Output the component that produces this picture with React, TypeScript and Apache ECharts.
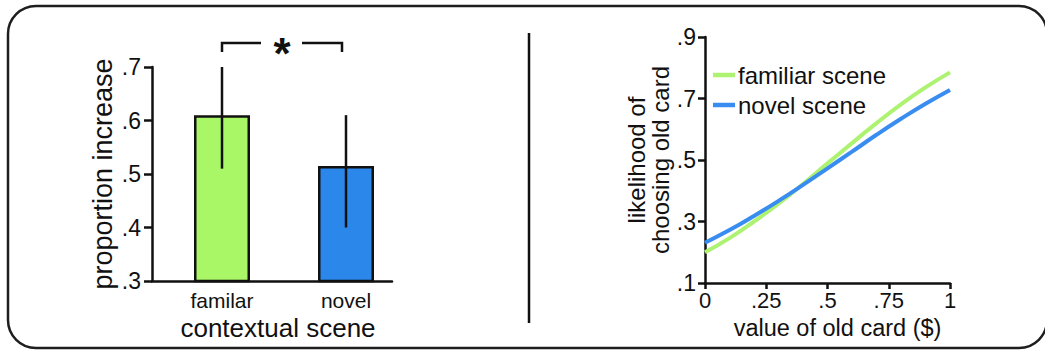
import React, { useEffect, useRef } from "react";
import * as echarts from "echarts";

// ---- data ----
const barCategories = ["familar", "novel"];
const barMeans = [0.61, 0.515];
const barErrLow = [0.51, 0.4];
const barErrHigh = [0.7, 0.61];
const sigLevel = 0.745;

const cardValues = [0, 0.1, 0.2, 0.3, 0.4, 0.5, 0.6, 0.7, 0.8, 0.9, 1];
const familiarScene = [0.2, 0.246, 0.3, 0.358, 0.422, 0.489, 0.555, 0.62, 0.681, 0.736, 0.785];
const novelScene = [0.231, 0.272, 0.318, 0.367, 0.419, 0.473, 0.527, 0.582, 0.634, 0.683, 0.728];

const leftTicks = { min: 0.3, max: 0.7, interval: 0.1 };
const rightYTicks = { min: 0.1, max: 0.9, interval: 0.2 };
const rightXTicks = { min: 0, max: 1, interval: 0.25 };

const FONT = "Liberation Sans, Arial, Helvetica, sans-serif";
const INK = "#111";
const GREEN_BAR = "#a9f666";
const BLUE_BAR = "#2b87ea";
const GREEN_LINE = "#aef272";
const BLUE_LINE = "#3a8df0";

const fmtDec = (v: number) => {
  if (v === 0) return "0";
  if (Math.abs(v - 1) < 1e-9) return "1";
  const s = String(Math.round(v * 100) / 100);
  return s.replace(/^0/, "");
};

export default function App() {
  const ref = useRef<HTMLDivElement>(null);
  useEffect(() => {
    if (!ref.current) return;
    const chart = echarts.init(ref.current, null, { renderer: "svg" });
    const option: any = {
      animation: false,
      textStyle: { fontFamily: FONT, color: INK },
      grid: [
        { left: 160, top: 67, width: 248, height: 214 },
        { left: 152, top: 67, width: 240, height: 214 },
        { left: 705, top: 37, width: 245, height: 246 },
      ],
      xAxis: [
        {
          gridIndex: 0,
          type: "category",
          data: barCategories,
          axisLine: { show: false },
          axisTick: { show: false },
          axisLabel: { fontSize: 21, lineHeight: 18, color: INK, margin: 10, fontFamily: FONT },
          name: "contextual scene",
          nameLocation: "middle",
          nameGap: 36,
          nameMoveOverlap: false,
          nameTextStyle: { fontSize: 26, lineHeight: 21, color: INK, fontFamily: FONT, padding: [0, 12, 0, 0] },
        },
        {
          gridIndex: 1,
          type: "value",
          min: 0,
          max: 1,
          axisLine: { show: true, lineStyle: { color: INK, width: 2.5 } },
          axisTick: { show: false },
          axisLabel: { show: false },
          splitLine: { show: false },
        },
        {
          gridIndex: 2,
          type: "value",
          min: rightXTicks.min,
          max: rightXTicks.max,
          interval: rightXTicks.interval,
          axisLine: { show: true, lineStyle: { color: INK, width: 2.5 } },
          axisTick: { show: true, length: 6, lineStyle: { color: INK, width: 2.5 } },
          axisLabel: { fontSize: 22, lineHeight: 18, color: INK, margin: 8, formatter: fmtDec, fontFamily: FONT },
          splitLine: { show: false },
          name: "value of old card ($)",
          nameLocation: "middle",
          nameGap: 35,
          nameMoveOverlap: false,
          nameTextStyle: { fontSize: 23.5, lineHeight: 20, color: INK, fontFamily: FONT, padding: [0, 0, 0, 20] },
        },
      ],
      yAxis: [
        {
          gridIndex: 0,
          type: "value",
          min: leftTicks.min,
          max: leftTicks.max,
          show: false,
        },
        {
          gridIndex: 1,
          type: "value",
          min: leftTicks.min,
          max: leftTicks.max,
          interval: leftTicks.interval,
          axisLine: { show: true, lineStyle: { color: INK, width: 2.5 } },
          axisTick: { show: true, length: 8, lineStyle: { color: INK, width: 2.5 } },
          axisLabel: { fontSize: 23, color: INK, margin: 11, formatter: (v: number) => v.toFixed(1).replace(/^0/, ""), fontFamily: FONT },
          splitLine: { show: false },
          name: "proportion increase",
          nameLocation: "middle",
          nameRotate: 90,
          nameGap: 36,
          nameTextStyle: { fontSize: 27, color: INK, fontFamily: FONT },
        },
        {
          gridIndex: 2,
          type: "value",
          min: rightYTicks.min,
          max: rightYTicks.max,
          interval: rightYTicks.interval,
          axisLine: { show: true, lineStyle: { color: INK, width: 2.5 } },
          axisTick: { show: true, length: 7, lineStyle: { color: INK, width: 2.5 } },
          axisLabel: { fontSize: 23, color: INK, margin: 9, formatter: (v: number) => v.toFixed(1).replace(/^0/, ""), fontFamily: FONT },
          splitLine: { show: false },
          name: "likelihood of\nchoosing old card",
          nameLocation: "middle",
          nameRotate: 90,
          nameGap: 29,
          nameTextStyle: { fontSize: 24, lineHeight: 24, color: INK, fontFamily: FONT },
        },
      ],
      legend: {
        left: 713,
        top: 63,
        orient: "vertical",
        icon: "rect",
        itemWidth: 22,
        itemHeight: 4.5,
        itemGap: 6,
        padding: 0,
        textStyle: { fontSize: 24, color: INK, fontFamily: FONT, padding: [0, 0, 0, -2] },
        data: ["familiar scene", "novel scene"],
      },
      series: [
        {
          type: "bar",
          xAxisIndex: 0,
          yAxisIndex: 0,
          barWidth: 56,
          data: barMeans.map((v, i) => ({
            value: v,
            itemStyle: { color: i === 0 ? GREEN_BAR : BLUE_BAR, borderColor: INK, borderWidth: 2.5 },
          })),
          z: 2,
        },
        {
          type: "custom",
          xAxisIndex: 0,
          yAxisIndex: 0,
          clip: false,
          z: 5,
          data: barErrLow.map((lo, i) => [i, lo, barErrHigh[i]]),
          encode: { x: 0, y: [1, 2] },
          renderItem: (params: any, api: any) => {
            const c = api.value(0);
            const lo = api.coord([c, api.value(1)]);
            const hi = api.coord([c, api.value(2)]);
            return {
              type: "line",
              shape: { x1: lo[0], y1: lo[1], x2: hi[0], y2: hi[1] },
              style: { stroke: INK, lineWidth: 2.5 },
            };
          },
        },
        {
          type: "custom",
          xAxisIndex: 0,
          yAxisIndex: 0,
          clip: false,
          z: 5,
          data: [[0, 1, sigLevel]],
          encode: { x: [0, 1], y: 2 },
          renderItem: (params: any, api: any) => {
            const a = api.coord([api.value(0), api.value(2)]);
            const b = api.coord([api.value(1), api.value(2)]);
            const bx = b[0] - 4;
            const mid = (a[0] + bx) / 2;
            const st = { stroke: INK, lineWidth: 2.5, fill: "none" };
            return {
              type: "group",
              children: [
                { type: "polyline", shape: { points: [[a[0], a[1] + 9], [a[0], a[1]], [mid - 21, a[1]]] }, style: st },
                { type: "polyline", shape: { points: [[mid + 20, b[1]], [bx, b[1]], [bx, b[1] + 9]] }, style: st },
                {
                  type: "text",
                  x: mid,
                  y: a[1] + 11,
                  style: { text: "*", fontSize: 44, fontWeight: "bold", fontFamily: FONT, fill: INK, align: "center", verticalAlign: "middle" },
                },
              ],
            };
          },
        },
        {
          type: "line",
          name: "familiar scene",
          xAxisIndex: 2,
          yAxisIndex: 2,
          smooth: true,
          symbol: "none",
          data: cardValues.map((x, i) => [x, familiarScene[i]]),
          lineStyle: { color: GREEN_LINE, width: 4 },
          itemStyle: { color: GREEN_LINE },
          z: 3,
        },
        {
          type: "line",
          name: "novel scene",
          xAxisIndex: 2,
          yAxisIndex: 2,
          smooth: true,
          symbol: "none",
          data: cardValues.map((x, i) => [x, novelScene[i]]),
          lineStyle: { color: BLUE_LINE, width: 4 },
          itemStyle: { color: BLUE_LINE },
          z: 4,
        },
      ],
      graphic: [
        {
          type: "rect",
          shape: { x: 8, y: 6, width: 1039, height: 342, r: 28 },
          style: { fill: "none", stroke: "#1e1e1e", lineWidth: 2.5 },
          silent: true,
          z: 0,
        },
        {
          type: "line",
          shape: { x1: 529, y1: 33, x2: 529, y2: 323 },
          style: { stroke: INK, lineWidth: 2.5 },
          silent: true,
        },
      ],
    };
    chart.setOption(option);
    return () => chart.dispose();
  }, []);
  return (
    <div
      ref={ref}
      style={{ position: "fixed", left: 0, top: 0, width: 1045, height: 350, background: "#fff" }}
    />
  );
}
